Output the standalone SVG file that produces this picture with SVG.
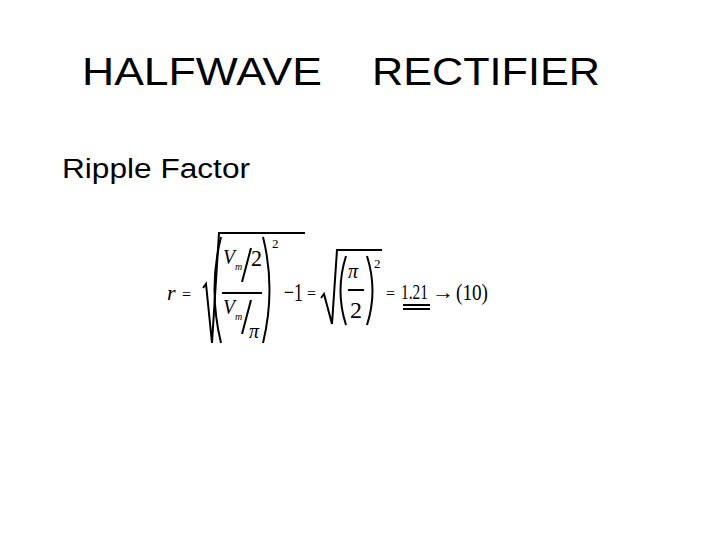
<svg xmlns="http://www.w3.org/2000/svg" width="720" height="540" viewBox="0 0 720 540">
<style>
.t{font-family:"Liberation Sans",Arial,sans-serif;fill:#000}
.m{font-family:"Liberation Serif","Times New Roman",serif;fill:#000}
.i{font-style:italic}
.l{stroke:#000;fill:none;stroke-width:2}
</style>
<rect width="720" height="540" fill="#fff"/>
<g id="title">
<text class="t" x="82" y="85" font-size="39" textLength="240" lengthAdjust="spacingAndGlyphs">HALFWAVE</text>
<text class="t" x="372" y="85" font-size="39" textLength="228" lengthAdjust="spacingAndGlyphs">RECTIFIER</text>
</g>
<g id="subtitle"><text class="t" x="62" y="178" font-size="27" textLength="188" lengthAdjust="spacingAndGlyphs">Ripple Factor</text></g>
<g id="formula">
<text class="m i" x="167" y="300" font-size="22">r</text>
<text class="m" x="182" y="300" font-size="16">=</text>
<path class="l" d="M203,288 L206,284 L212,343 L219,233 L305,233" stroke-width="1.8"/>
<path class="l" d="M221,237 Q208,289 221,343"/>
<path class="l" d="M263,237 Q276,289 263,343"/>
<text class="m i" x="223" y="264" font-size="22" textLength="12" lengthAdjust="spacingAndGlyphs">V</text>
<text class="m i" x="235" y="270" font-size="10">m</text>
<path class="l" d="M251,248 L242,282" stroke-width="1.3"/>
<text class="m" x="251" y="266" font-size="24" textLength="11" lengthAdjust="spacingAndGlyphs">2</text>
<path class="l" d="M222,293 L262,293"/>
<text class="m i" x="223" y="314" font-size="22" textLength="12" lengthAdjust="spacingAndGlyphs">V</text>
<text class="m i" x="235" y="320" font-size="10">m</text>
<path class="l" d="M251,300 L242,334" stroke-width="1.3"/>
<text class="m i" x="249" y="338" font-size="20">π</text>
<text class="m" x="272" y="248" font-size="13">2</text>
<text class="m" x="284" y="301" font-size="26" textLength="19" lengthAdjust="spacingAndGlyphs">−1</text>
<text class="m" x="307" y="299" font-size="16">=</text>
<path class="l" d="M321,298 L324,294 L332,324 L337,250 L382,250" stroke-width="1.8"/>
<path class="l" d="M346,256 Q335,291 346,325"/>
<path class="l" d="M367,256 Q378,291 367,325"/>
<text class="m i" x="348" y="278" font-size="20">π</text>
<path class="l" d="M348,290 L364,290" stroke-width="1.5"/>
<text class="m" x="350" y="318" font-size="24">2</text>
<text class="m" x="374" y="268" font-size="13">2</text>
<text class="m" x="386" y="299" font-size="16">=</text>
<text class="m" x="401" y="299" font-size="22" textLength="27" lengthAdjust="spacingAndGlyphs">1.21</text>
<path class="l" d="M403,305 L430,305 M403,309 L430,309" stroke-width="1.6"/>
<text class="m" x="432" y="299" font-size="20" textLength="22" lengthAdjust="spacingAndGlyphs">→</text>
<text class="m" x="456" y="300" font-size="24" textLength="32" lengthAdjust="spacingAndGlyphs">(10)</text>
</g>
</svg>
